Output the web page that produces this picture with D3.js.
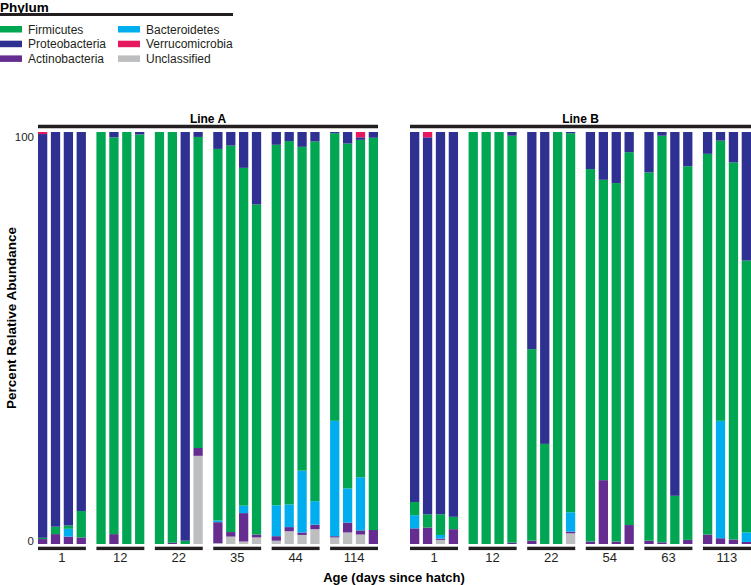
<!DOCTYPE html>
<html>
<head>
<meta charset="utf-8">
<script src="https://cdn.jsdelivr.net/npm/d3@7"></script>
<style>
  body { margin: 0; background: #fff; }
  svg { display: block; font-family: "Liberation Sans", Arial, Helvetica, sans-serif; }
</style>
</head>
<body>
<svg id="chart" width="751" height="585"></svg>
<script>
// stacking order, bottom to top
const phyla = ["Unclassified", "Actinobacteria", "Bacteroidetes", "Firmicutes", "Proteobacteria", "Verrucomicrobia"];
const colors = ["#bcbec0", "#662d91", "#00aeef", "#00a651", "#2e3192", "#e6185e"];
const legendOrder = ["Firmicutes", "Proteobacteria", "Actinobacteria", "Bacteroidetes", "Verrucomicrobia", "Unclassified"];

const lineAAges = ["1", "12", "22", "35", "44", "114"];
const lineBAges = ["1", "12", "22", "54", "63", "113"];
const replicates = ["r1", "r2", "r3", "r4"];
const yTicks = [0, 100];

// Line A, 4 birds per age (percent)
const lineAUnclassified = [0, 0, 0, 0, 0, 0, 0, 0, 0, 0, 0, 21.4, 0.2, 1.8, 0.6, 1.6, 0.8, 3.1, 2.2, 3.6, 1.6, 2.8, 2.3, 0];
const lineAActino = [1.2, 2.4, 1.8, 1.6, 0, 2.4, 0, 0, 0, 0.3, 0, 1.9, 5.1, 1.1, 6.9, 0.7, 1.1, 1.0, 0.6, 1.1, 0.3, 2.4, 1.0, 3.4];
const lineABactero = [0, 0, 1.9, 0, 0, 0, 0, 0, 0, 0, 0, 0, 0.4, 0, 1.8, 0, 7.5, 5.5, 15.0, 5.7, 28.0, 8.3, 12.9, 0];
const lineAFirmi = [0.3, 1.8, 0.8, 6.4, 100, 96.3, 100, 99.4, 100, 99.7, 0.8, 75.5, 90.2, 93.8, 82.0, 80.1, 87.5, 88.2, 78.6, 87.3, 69.8, 83.7, 81.9, 95.2];
const lineAProteo = [98.0, 95.8, 95.5, 92.0, 0, 1.3, 0, 0.6, 0, 0, 99.2, 1.2, 4.1, 3.3, 8.7, 17.6, 3.1, 2.2, 3.6, 2.3, 0.3, 2.8, 0.6, 1.4];
const lineAVerruco = [0.5, 0, 0, 0, 0, 0, 0, 0, 0, 0, 0, 0, 0, 0, 0, 0, 0, 0, 0, 0, 0, 0, 1.3, 0];

// Line B
const lineBUnclassified = [0, 0, 1.0, 0, 0, 0, 0, 0, 0, 0, 0, 2.6, 0, 0, 0, 0, 0, 0, 0, 0, 0, 0, 0, 0];
const lineBActino = [3.8, 4.0, 0.3, 3.6, 0, 0, 0, 0.3, 0.8, 0, 0, 0.4, 0.6, 15.5, 0.6, 4.6, 0.8, 0.4, 0, 1.0, 2.3, 1.4, 1.1, 0.5];
const lineBBactero = [3.2, 0, 0.9, 0, 0, 0, 0, 0, 0, 0, 0, 4.7, 0, 0, 0, 0, 0, 0, 0, 0, 0, 28.5, 0, 2.3];
const lineBFirmi = [3.2, 3.2, 5.0, 3.0, 100, 100, 100, 98.8, 46.5, 24.3, 100, 92.0, 90.4, 72.9, 87.0, 90.5, 89.4, 98.7, 11.7, 90.7, 92.4, 68.0, 91.5, 66.0];
const lineBProteo = [89.8, 91.5, 92.8, 93.4, 0, 0, 0, 0.9, 52.7, 75.7, 0, 0.3, 9.0, 11.6, 12.4, 4.9, 9.8, 0.9, 88.3, 8.3, 5.3, 2.1, 7.4, 31.2];
const lineBVerruco = [0, 1.3, 0, 0, 0, 0, 0, 0, 0, 0, 0, 0, 0, 0, 0, 0, 0, 0, 0, 0, 0, 0, 0, 0];

const panels = [
    { title: "Line A", ages: lineAAges, x0: 38, x1: 378,
      series: [lineAUnclassified, lineAActino, lineABactero, lineAFirmi, lineAProteo, lineAVerruco] },
    { title: "Line B", ages: lineBAges, x0: 410, x1: 751,
      series: [lineBUnclassified, lineBActino, lineBBactero, lineBFirmi, lineBProteo, lineBVerruco] }
];

const svg = d3.select("#chart");
const color = d3.scaleOrdinal().domain(phyla).range(colors);
const y = d3.scaleLinear().domain([0, 100]).range([544, 132]);

// legend
const legend = svg.append("g");
legend.append("text").attr("x", 0).attr("y", 11.5)
    .attr("font-size", 13.5).attr("font-weight", "bold").text("Phylum");
legend.append("line").attr("x1", 0).attr("x2", 233).attr("y1", 14.5).attr("y2", 14.5)
    .attr("stroke", "#231f20").attr("stroke-width", 3);
const li = legend.selectAll("g.item").data(legendOrder).join("g")
    .attr("class", "item")
    .attr("transform", (d, i) => `translate(${i < 3 ? 0 : 118},${26 + (i % 3) * 14.7})`);
li.append("rect").attr("width", 22).attr("height", 6.5).attr("fill", d => color(d));
li.append("text").attr("x", 28).attr("y", 7.5).attr("font-size", 12).attr("fill", "#231f20").text(d => d);

// y axis labels only (the originals sit a little inside the ends)
const yAxis = d3.axisLeft(y).tickValues(yTicks).tickSize(0).tickPadding(3);
svg.append("g").attr("transform", "translate(37,0)").call(yAxis)
    .call(g => g.select(".domain").remove())
    .call(g => g.selectAll("text").attr("font-size", 11.5).attr("fill", "#231f20")
        .attr("font-family", "Liberation Sans, Arial, sans-serif")
        .attr("dy", d => d === 100 ? "0.75em" : "0.05em"));

svg.append("text")
    .attr("transform", "translate(15.5,318) rotate(-90)")
    .attr("text-anchor", "middle").attr("font-size", 13.5).attr("font-weight", "bold")
    .text("Percent Relative Abundance");

svg.append("text").attr("x", 394).attr("y", 582)
    .attr("text-anchor", "middle").attr("font-size", 13).attr("font-weight", "bold")
    .text("Age (days since hatch)");

panels.forEach(p => {
    const g = svg.append("g");
    const xGroup = d3.scaleBand().domain(p.ages.map((a, i) => i)).range([p.x0, p.x1])
        .paddingInner(0.18).paddingOuter(0);
    const xBar = d3.scaleBand().domain(replicates).range([0, xGroup.bandwidth()])
        .paddingInner(0.28).paddingOuter(0);

    // header
    g.append("line").attr("x1", p.x0).attr("x2", p.x1).attr("y1", 126.5).attr("y2", 126.5)
        .attr("stroke", "#231f20").attr("stroke-width", 3.3);
    g.append("text").attr("x", (p.x0 + p.x1) / 2).attr("y", 122.5)
        .attr("text-anchor", "middle").attr("font-size", 12).attr("font-weight", "bold")
        .text(p.title);

    // one record per bar
    const rows = p.ages.flatMap((a, gi) => replicates.map((r, ri) => {
        const o = { group: gi, rep: r };
        phyla.forEach((ph, k) => { o[ph] = p.series[k][gi * 4 + ri]; });
        return o;
    }));
    const stacked = d3.stack().keys(phyla)(rows);

    g.selectAll("g.layer").data(stacked).join("g")
        .attr("class", "layer")
        .attr("fill", d => color(d.key))
        .selectAll("rect").data(d => d.filter(s => s[1] - s[0] > 0)).join("rect")
        .attr("x", d => xGroup(d.data.group) + xBar(d.data.rep))
        .attr("width", xBar.bandwidth())
        .attr("y", d => y(d[1]))
        .attr("height", d => y(d[0]) - y(d[1]));

    // group underlines and age labels
    const grp = g.selectAll("g.age").data(p.ages).join("g")
        .attr("class", "age")
        .attr("transform", (d, i) => `translate(${xGroup(i)},0)`);
    grp.append("rect").attr("y", 546.7).attr("height", 3.4).attr("width", xGroup.bandwidth())
        .attr("fill", "#231f20");
    grp.append("text").attr("x", xGroup.bandwidth() / 2).attr("y", 562.3)
        .attr("text-anchor", "middle").attr("font-size", 13).attr("fill", "#231f20")
        .text(d => d);
});
</script>
</body>
</html>
